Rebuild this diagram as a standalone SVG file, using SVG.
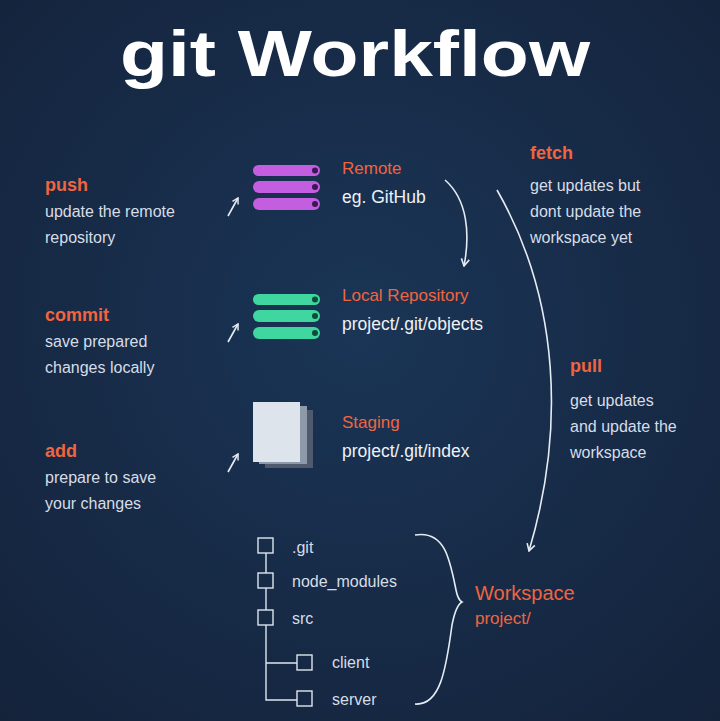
<svg xmlns="http://www.w3.org/2000/svg" width="720" height="721" viewBox="0 0 720 721">
<defs>
<radialGradient id="bg" cx="0.5" cy="0.45" r="0.75">
<stop offset="0" stop-color="#1a3556"/><stop offset="1" stop-color="#14223a"/>
</radialGradient>
<marker id="ah" viewBox="0 0 10 10" refX="9" refY="5" markerWidth="10" markerHeight="10" orient="auto" markerUnits="userSpaceOnUse">
<path d="M2,1 L9,5 L2,9" fill="none" stroke="#e6ecf3" stroke-width="1.6"/>
</marker>
<marker id="sm" viewBox="0 0 10 10" refX="9" refY="5" markerWidth="8" markerHeight="8" orient="auto" markerUnits="userSpaceOnUse">
<path d="M2,1 L9,5 L2,9" fill="none" stroke="#e6ecf3" stroke-width="1.8"/>
</marker>
<style>
.t{font-family:"Liberation Sans",Arial,sans-serif}
.o{fill:#f0653f;font-size:17px}
.ob{fill:#f0653f;font-size:18px;font-weight:bold}
.w{fill:#eef2f7;font-size:17.5px}
.d{fill:#d6dde7;font-size:16px}
.ln{fill:none;stroke:#e6ecf3;stroke-width:1.6}
.bx{fill:none;stroke:#dfe6ee;stroke-width:1.4}
</style>
</defs>
<rect width="720" height="721" fill="url(#bg)"/>
<text class="t" x="120" y="76" font-size="64" font-weight="bold" fill="#ffffff" textLength="470" lengthAdjust="spacingAndGlyphs">git Workflow</text>

<g id="push"><text class="t ob" x="45" y="191">push</text><text class="t d" x="45" y="217">update the remote</text><text class="t d" x="45" y="243">repository</text></g>
<g id="commit"><text class="t ob" x="45" y="321">commit</text><text class="t d" x="45" y="347">save prepared</text><text class="t d" x="45" y="373">changes locally</text></g>
<g id="add"><text class="t ob" x="45" y="457">add</text><text class="t d" x="45" y="483">prepare to save</text><text class="t d" x="45" y="509">your changes</text></g>

<g id="remote">
<rect x="253" y="165" width="67" height="11" rx="5.5" fill="#c45ee0"/><rect x="253" y="181" width="67" height="12" rx="6" fill="#c45ee0"/><rect x="253" y="198" width="67" height="12" rx="6" fill="#c45ee0"/>
<circle cx="315" cy="170.5" r="3" fill="#3a1850"/><circle cx="315" cy="187" r="3" fill="#3a1850"/><circle cx="315" cy="204" r="3" fill="#3a1850"/>
<text class="t o" x="342" y="174">Remote</text><text class="t w" x="342" y="203">eg. GitHub</text>
</g>
<g id="local">
<rect x="253" y="294" width="67" height="11" rx="5.5" fill="#3fd6a0"/><rect x="253" y="310" width="67" height="12" rx="6" fill="#3fd6a0"/><rect x="253" y="327" width="67" height="12" rx="6" fill="#3fd6a0"/>
<circle cx="315" cy="299.5" r="3" fill="#124a3a"/><circle cx="315" cy="316" r="3" fill="#124a3a"/><circle cx="315" cy="333" r="3" fill="#124a3a"/>
<text class="t o" x="342" y="301">Local Repository</text><text class="t w" x="342" y="330">project/.git/objects</text>
</g>
<g id="staging">
<rect x="265" y="410" width="48" height="58" fill="#4f5b6c"/><rect x="259" y="406" width="48" height="58" fill="#8e9aaa"/><rect x="253" y="402" width="47" height="60" fill="#dde4ec"/>
<text class="t o" x="342" y="428">Staging</text><text class="t w" x="342" y="457">project/.git/index</text>
</g>
<g id="fetch"><text class="t ob" x="530" y="159">fetch</text><text class="t d" x="530" y="191">get updates but</text><text class="t d" x="530" y="217">dont update the</text><text class="t d" x="530" y="243">workspace yet</text></g>
<g id="pull"><text class="t ob" x="570" y="372">pull</text><text class="t d" x="570" y="406">get updates</text><text class="t d" x="570" y="432">and update the</text><text class="t d" x="570" y="458">workspace</text></g>

<g id="workspace">
<rect class="bx" x="258" y="538" width="15" height="15"/><rect class="bx" x="258" y="573" width="15" height="15"/><rect class="bx" x="258" y="610" width="15" height="15"/>
<rect class="bx" x="297" y="655" width="15" height="15"/><rect class="bx" x="297" y="691" width="15" height="15"/>
<path class="bx" d="M266,553 V573 M266,588 V610 M266,625 V700 H297 M266,663 H297"/>
<text class="t d" x="292" y="553">.git</text><text class="t d" x="292" y="587">node_modules</text><text class="t d" x="292" y="624">src</text>
<text class="t d" x="332" y="668">client</text><text class="t d" x="332" y="705">server</text>
<path class="ln" d="M415,535 C445,530 450,560 456,590 Q458,600 462,602 Q456,605 452,625 C446,670 440,706 415,704"/>
<text class="t" x="475" y="600" font-size="20" fill="#f0653f">Workspace</text><text class="t" x="475" y="624" font-size="17" fill="#f0653f">project/</text>
</g>

<g id="connectors">
<path class="ln" d="M228,216 L238,198" marker-end="url(#sm)"/>
<path class="ln" d="M228,342 L238,324" marker-end="url(#sm)"/>
<path class="ln" d="M228,472 L238,454" marker-end="url(#sm)"/>
<path class="ln" d="M445,180 C468,200 470,235 464,266" marker-end="url(#ah)"/>
<path class="ln" d="M497,190 C560,300 565,430 529,551" marker-end="url(#ah)"/>
</g>
</svg>
